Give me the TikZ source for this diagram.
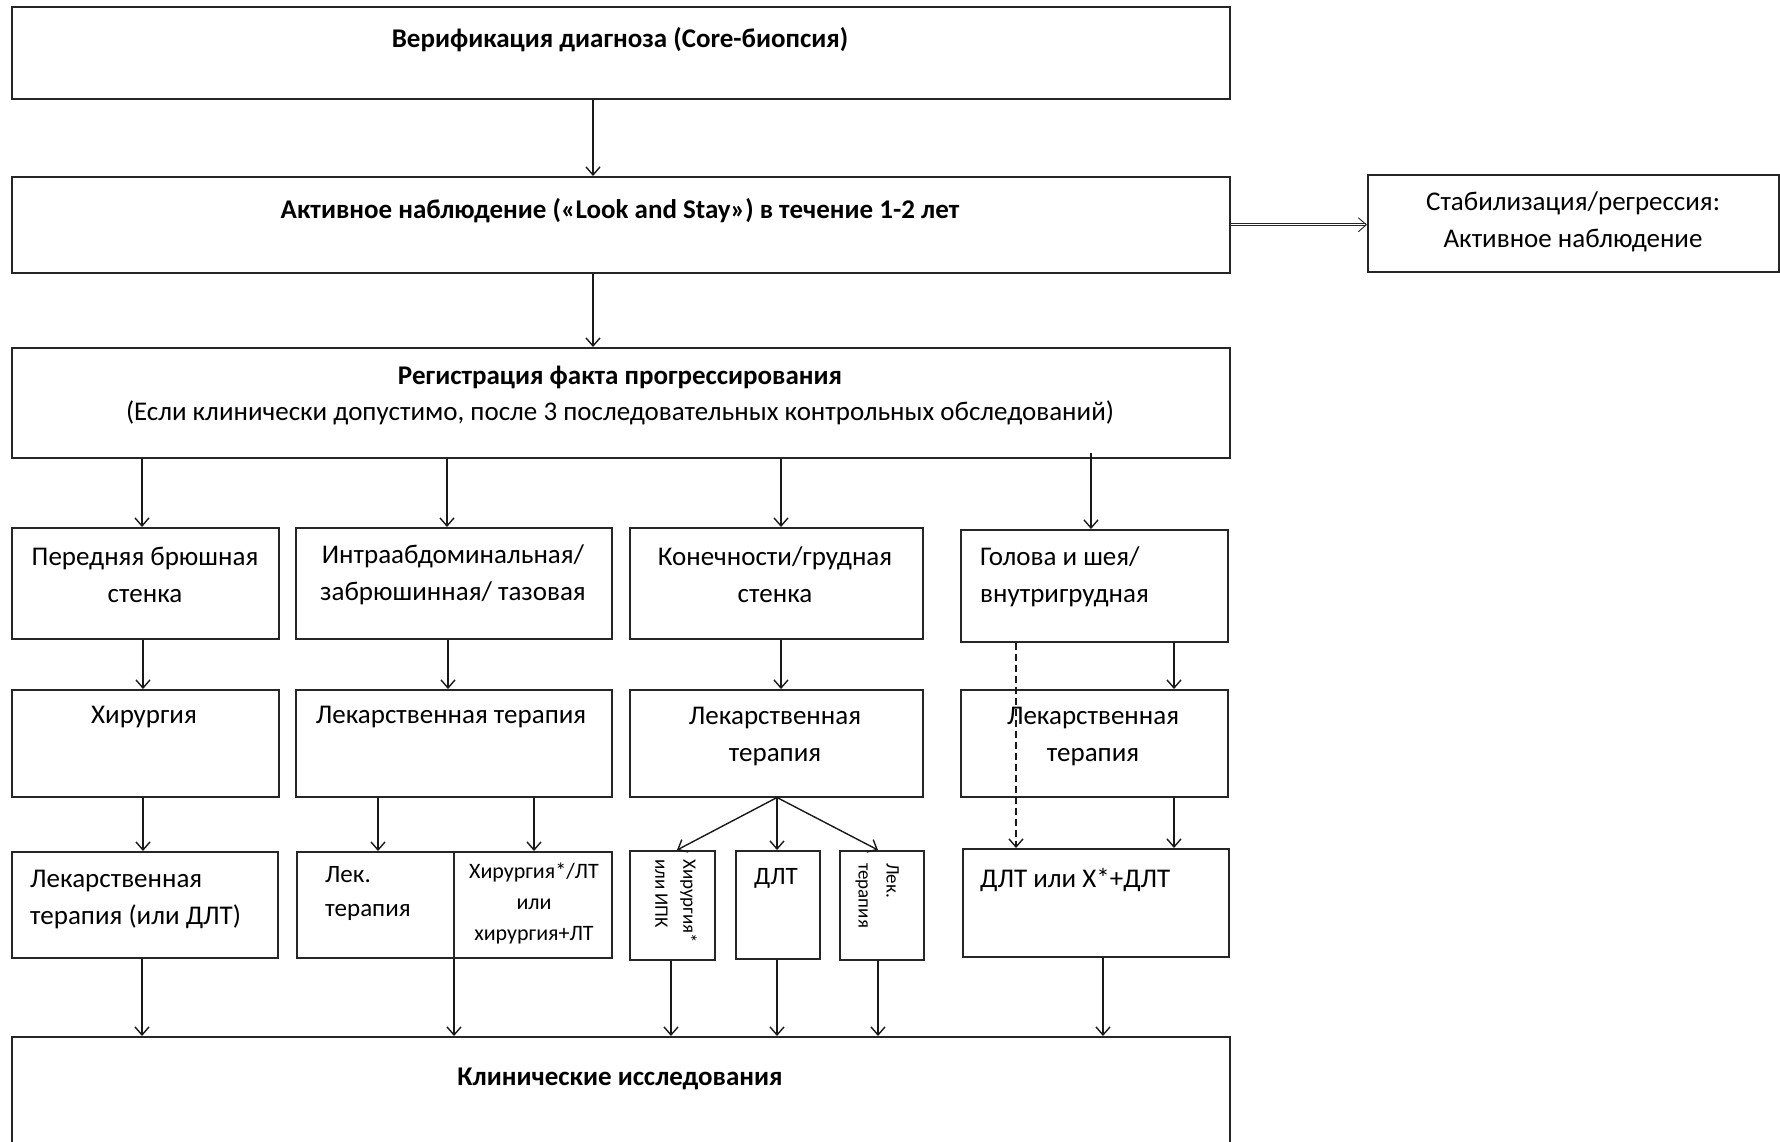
\documentclass[tikz,border=0pt]{standalone}
\usepackage{fontspec}
\setmainfont{Carlito}
\usetikzlibrary{arrows.meta}
\newcommand{\mybox}[5]{\node[box, minimum width={#4-#2}, minimum height={#5-#3}] (#1) at (#2,#3) {};}
\begin{document}
\begin{tikzpicture}[x=1pt,y=-1pt,
  box/.style={draw=black!85, line width=1.5pt, inner sep=0pt, anchor=north west},
  txt/.style={font=\fontsize{27}{37}\selectfont, inner sep=0pt, align=center},
  btxt/.style={txt, font=\fontsize{27}{37}\selectfont\bfseries},
  arr/.style={line width=1.4pt, draw=black!90, -{Straight Barb[length=8pt,width=14pt,line width=1.4pt]}},
]
\useasboundingbox (0,0) rectangle (1780,1141);
\fill[white] (0,0) rectangle (1780,1141);
% boxes
\mybox{top}{11}{6}{1229}{98}
\mybox{act}{11}{176}{1229}{272}
\mybox{stab}{1367}{174}{1778}{271}
\mybox{reg}{11}{347}{1229}{457}
\mybox{fa}{11}{527}{278}{638}
\mybox{fb}{295}{527}{611}{638}
\mybox{fc}{629}{527}{922}{638}
\mybox{fd}{960}{529}{1227}{641}
\mybox{sa}{11}{689}{278}{796}
\mybox{sb}{295}{689}{611}{796}
\mybox{sc}{629}{689}{922}{796}
\mybox{sd}{960}{689}{1227}{796}
\mybox{ta}{11}{851}{277}{957}
\mybox{tb}{296}{851}{611}{957}
\mybox{tc1}{629}{850}{714}{959}
\mybox{tc2}{735}{850}{819}{958}
\mybox{tc3}{839}{850}{923}{959}
\mybox{td}{962}{848}{1228}{956}
\mybox{bot}{11}{1036}{1229}{1160}
% x helper coordinates
\foreach \xx in {142,143,378,447,448,454,534,593,671,677,777,781,878,1016,1091,1103,1174}
  {\coordinate (k\xx) at (\xx,0);}
\coordinate (y453) at (0,453);
\draw[line width=1.5pt, draw=black!85] (tb.north -| k454) -- (tb.south -| k454);
% texts
\node[btxt] (topT) at (620,40) {Верификация диагноза (Core-биопсия)};
\node[btxt] (actT) at (620,211) {Активное наблюдение («Look and Stay») в течение 1-2 лет};
\node[btxt] (regT1) at (620,377) {Регистрация факта прогрессирования};
\node[txt] (regT2) at (620,413) {(Если клинически допустимо, после 3 последовательных контрольных обследований)};
\node[txt] (stabT) at (1573,222) {Стабилизация/регрессия:\\Активное наблюдение};
\node[txt] (faT) at (145,575) {Передняя брюшная\\стенка};
\node[txt] (fbT) at (453,575) {Интраабдоминальная/\\забрюшинная/ тазовая};
\node[txt] (fcT) at (775,575) {Конечности/грудная\\стенка};
\node[txt, align=left, anchor=west] (fdT) at (980,577) {Голова и шея/\\внутригрудная};
\node[txt] (saT) at (144,717) {Хирургия};
\node[txt] (sbT) at (451,717) {Лекарственная терапия};
\node[txt] (scT) at (775,737) {Лекарственная\\терапия};
\node[txt] (sdT) at (1093,737) {Лекарственная\\терапия};
\node[txt, align=left, anchor=west] (taT) at (30,899) {Лекарственная\\терапия (или ДЛТ)};
\node[txt, align=left, anchor=west, font=\fontsize{25}{34}\selectfont] (tbT1) at (325,893) {Лек.\\терапия};
\node[txt, font=\fontsize{22}{31}\selectfont] (tbT2) at (534,903) {Хирургия*/ЛТ\\или\\хирургия+ЛТ};
\node[txt, align=left, rotate=-90, anchor=north west, font=\fontsize{19}{28}\selectfont] (tc1T) at (697,859) {Хирургия*\\или ИПК};
\node[txt, font=\fontsize{25}{34}\selectfont] (tc2T) at (776,878) {ДЛТ};
\node[txt, align=left, rotate=-90, anchor=north west, font=\fontsize{19}{28}\selectfont] (tc3T) at (899,863) {Лек.\\терапия};
\node[txt, anchor=west] (tdT) at (980,880) {ДЛТ или Х*+ДЛТ};
\node[btxt] (botT) at (620,1079) {Клинические исследования};
% connectors
\draw[arr] (top.south -| k593) -- (act.north -| k593);
\draw[arr] (act.south -| k593) -- (reg.north -| k593);
\draw[line width=0.9pt, double=white, double distance=1.2pt, draw=black!85, -{Straight Barb[length=8pt,width=14pt]}] (act.east) -- (act.east -| stab.west);
\draw[arr] (reg.south -| k142) -- (fa.north -| k142);
\draw[arr] (reg.south -| k447) -- (fb.north -| k447);
\draw[arr] (reg.south -| k781) -- (fc.north -| k781);
\draw[arr] (k1091 |- y453) -- (fd.north -| k1091);
\draw[arr] (fa.south -| k143) -- (sa.north -| k143);
\draw[arr] (fb.south -| k448) -- (sb.north -| k448);
\draw[arr] (fc.south -| k781) -- (sc.north -| k781);
\draw[arr] (fd.south -| k1174) -- (sd.north -| k1174);
\draw[arr] (sa.south -| k143) -- (ta.north -| k143);
\draw[arr] (sb.south -| k378) -- (tb.north -| k378);
\draw[arr] (sb.south -| k534) -- (tb.north -| k534);
\draw[arr] (sc.south -| k777) -- (tc1.north -| k677);
\draw[arr] (sc.south -| k777) -- (tc2.north -| k777);
\draw[arr] (sc.south -| k777) -- (tc3.north -| k878);
\draw[arr] (sd.south -| k1174) -- (td.north -| k1174);
\draw[arr, dash pattern=on 7pt off 4pt, line width=1.2pt] (fd.south -| k1016) -- (td.north -| k1016);
\draw[arr] (ta.south -| k142) -- (bot.north -| k142);
\draw[arr] (tb.south -| k454) -- (bot.north -| k454);
\draw[arr] (tc1.south -| k671) -- (bot.north -| k671);
\draw[arr] (tc2.south -| k777) -- (bot.north -| k777);
\draw[arr] (tc3.south -| k878) -- (bot.north -| k878);
\draw[arr] (td.south -| k1103) -- (bot.north -| k1103);
\end{tikzpicture}
\end{document}
